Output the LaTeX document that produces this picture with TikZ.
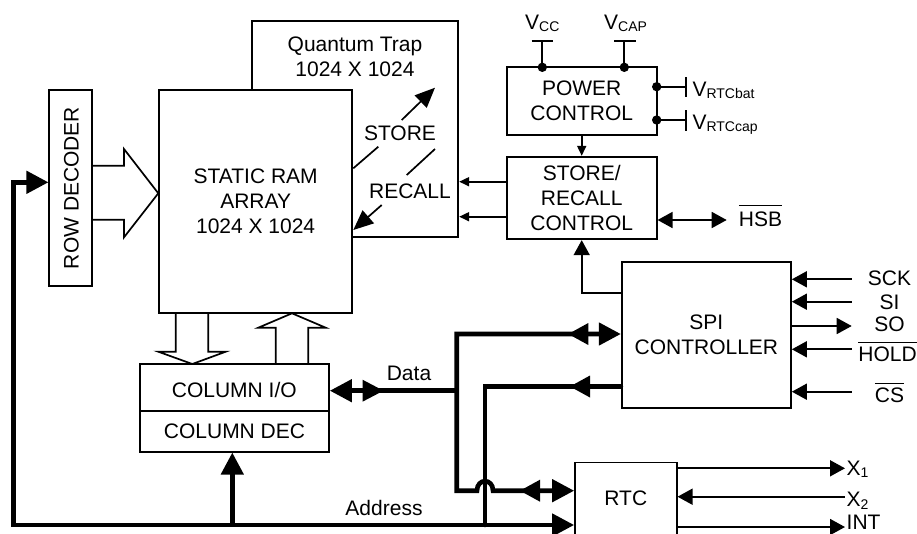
\documentclass[tikz,border=0pt]{standalone}
\usepackage{fontspec}
\setmainfont{Liberation Sans}
\usetikzlibrary{arrows.meta,calc}
\newcommand\sub[1]{\raisebox{-2.5pt}{\fontsize{14}{14}\selectfont #1}}
\newcommand\ovl[2]{\vbox{\hrule height 1.5pt\kern #1\hbox{#2}}}
\tikzset{
  Ts/.tip={Triangle[length=10pt,width=9pt]},
  Tm/.tip={Triangle[length=15pt,width=16pt]},
  Tl/.tip={Triangle[length=20pt,width=17pt]},
  Tb/.tip={Triangle[length=22pt,width=22pt]},
}
\begin{document}
\begin{tikzpicture}[x=1pt,y=-1pt,
  every node/.style={font=\fontsize{21}{25}\selectfont, inner sep=0pt},
  box/.style={draw, line width=1.7pt, fill=white, align=center},
  thin/.style={line width=1.7pt},
  bus/.style={line width=4.6pt},
  txt/.style={anchor=base},
]
\useasboundingbox (0,0) rectangle (917,533);
% helper levels
\coordinate (ya) at (0,181.7);
\coordinate (yb) at (0,216.7);
\coordinate (yh) at (0,220);
\coordinate (ys) at (0,293.3);
\coordinate (ysck) at (0,279.3);
\coordinate (ysi) at (0,301.7);
\coordinate (yso) at (0,326);
\coordinate (yhold) at (0,349.3);
\coordinate (ycs) at (0,391.7);
\coordinate (ydt) at (0,334);
\coordinate (ydata) at (0,390.7);
\coordinate (ysa) at (0,386.5);
\coordinate (ydb) at (0,490.7);
\coordinate (yaddr) at (0,525);
\coordinate (yrow) at (0,182.3);
\coordinate (yx1) at (0,468.3);
\coordinate (yx2) at (0,496.7);
\coordinate (yint) at (0,527);
\coordinate (xpin) at (851.7,0);
\coordinate (xx) at (845,0);
\coordinate (xhsb) at (726.7,0);
\coordinate (xbus) at (13.3,0);
\coordinate (xdv) at (456.7,0);
\coordinate (xav) at (485,0);
\coordinate (xcd) at (232.3,0);

% boxes
\node[box, minimum width=206.6pt, minimum height=216.3pt] (qt) at (355,129.15) {};
\node[align=center] (qtt) at (355,56.5) {Quantum Trap\\1024 X 1024};
\node[box, minimum width=193.3pt, minimum height=223.3pt] (sram) at (255.65,201.65) {STATIC RAM\\ARRAY\\1024 X 1024};
\node[box, minimum width=43pt, minimum height=196pt] (rowdec) at (70.8,188) {};
\node[rotate=90] (rowt) at (71.5,188) {ROW DECODER};
\node[box, minimum width=150pt, minimum height=67.7pt] (power) at (581.7,101.15) {POWER\\CONTROL};
\node[box, minimum width=150pt, minimum height=82.6pt] (src) at (581.7,198) {STORE/\\RECALL\\CONTROL};
\node[box, minimum width=169.3pt, minimum height=146.6pt] (spi) at (706.35,335) {SPI\\CONTROLLER};
\node[box, minimum width=189pt, minimum height=46.7pt] (colio) at (234.5,387.35) {};
\node[txt] (coliot) at (234.3,397.3) {COLUMN I/O};
\node[box, minimum width=189pt, minimum height=41pt] (coldec) at (234.5,431.2) {COLUMN DEC};
\node[box, minimum width=101.7pt, minimum height=75pt] (rtc) at (625.85,500) {};
\node[txt] (rtct) at (625.8,505) {RTC};

% hollow arrows
\draw[thin] (92.3,165.7) -- (124,165.7) -- (124,149) -- (158.3,193.3) -- (124,237.3) -- (124,219.7) -- (92.3,219.7);
\draw[thin] (175.7,313.3) -- (175.7,351.7) -- (158.3,351.7) -- (192.3,364) -- (225.7,351.7) -- (208.3,351.7) -- (208.3,313.3);
\draw[thin] (275.7,364) -- (275.7,327.7) -- (258.3,327.7) -- (292,313.3) -- (325.7,327.7) -- (308.3,327.7) -- (308.3,364);

% store / recall diagonals
\coordinate (s1) at (353.3,168.3); \coordinate (s2) at (378.3,146.7);
\coordinate (s3) at (401.7,120);   \coordinate (s4) at (435,87.7);
\coordinate (r1) at (435,149);     \coordinate (r2) at (406.7,175);
\coordinate (r3) at (381.7,205);   \coordinate (r4) at (353.3,230);
\draw[thin] (s1) -- (s2);
\draw[thin,-{Tl}] (s3) -- (s4);
\draw[thin] (r1) -- (r2);
\draw[thin,-{Tl}] (r3) -- (r4);
\node[txt] (store) at (400,140) {STORE};
\node[txt] (recall) at (410,198.3) {RECALL};

% power pins
\coordinate (vccp) at (542.3,67.3);
\coordinate (vcapp) at (624.3,67.3);
\draw[thin] (vccp) -- (542.3,41);
\draw[thin] (531.7,41) -- (553.3,41);
\fill (vccp) circle[radius=4.7pt];
\draw[thin] (vcapp) -- (624.3,41);
\draw[thin] (614,41) -- (635.7,41);
\fill (vcapp) circle[radius=4.7pt];
\node[anchor=base west] (vcc) at (525,29.3) {V\sub{CC}};
\node[anchor=base west] (vcap) at (604,29.3) {V\sub{CAP}};
\coordinate (vbp) at (656.7,86.7);
\coordinate (vcp) at (656.7,120);
\draw[thin] (vbp) -- (685.7,86.7);
\draw[thin] (685.7,77.3) -- (685.7,97.3);
\fill (vbp) circle[radius=4.7pt];
\draw[thin] (vcp) -- (685.7,120);
\draw[thin] (685.7,110) -- (685.7,130.5);
\fill (vcp) circle[radius=4.7pt];
\node[anchor=base west] (vbat) at (692.3,96) {V\sub{RTCbat}};
\node[anchor=base west] (vcapr) at (692.3,129.3) {V\sub{RTCcap}};

% thin connectors
\draw[thin,-{Ts}] (power.south) -- (src.north);
\draw[thin,-{Ts}] (src.west |- ya) -- (qt.east |- ya);
\draw[thin,-{Ts}] (src.west |- yb) -- (qt.east |- yb);
\draw[thin,{Tm}-{Tm}] (src.east |- yh) -- (xhsb |- yh);
\node[txt] (hsb) at (760.5,226.7) {\ovl{6pt}{HSB}};
\draw[thin,-{Tm}] (spi.west |- ys) -| (src.south);

\draw[thin,{Tm}-] (spi.east |- ysck) -- (xpin |- ysck);
\draw[thin,{Tm}-] (spi.east |- ysi) -- (xpin |- ysi);
\draw[thin,-{Tm}] (spi.east |- yso) -- (xpin |- yso);
\draw[thin,{Tm}-] (spi.east |- yhold) -- (xpin |- yhold);
\draw[thin,{Tm}-] (spi.east |- ycs) -- (xpin |- ycs);
\node[txt] (sck) at (889.5,285) {SCK};
\node[txt] (si) at (889.5,309.3) {SI};
\node[txt] (so) at (889.5,331.7) {SO};
\node[txt] (hold) at (887.5,361.7) {\ovl{4pt}{HOLD}};
\node[txt] (cs) at (889.5,402.7) {\ovl{4pt}{CS}};

\draw[thin,-{Tm}] (rtc.east |- yx1) -- (xx |- yx1);
\draw[thin,{Tm}-] (rtc.east |- yx2) -- (xx |- yx2);
\draw[thin,-{Tm}] (rtc.east |- yint) -- (xx |- yint);
\node[anchor=base west] (x1) at (846.5,475) {X\sub{1}};
\node[anchor=base west] (x2) at (846.5,506.7) {X\sub{2}};
\node[anchor=base west] (int) at (846.5,529.5) {INT};

% buses
\draw[bus,{Tb}-{Tb}] (rtc.west |- yaddr) -- (xbus |- yaddr) -- (xbus |- yrow) -- (rowdec.west |- yrow);
\draw[bus,-{Tb}] (xcd |- yaddr) -- (xcd |- coldec.south);
\draw[bus,line cap=round] (spi.west |- ysa) -- (xav |- ysa) -- (xav |- yaddr);
\coordinate (hop1) at (477,490.7);
\coordinate (hop2) at (493,490.7);
\draw[bus,{Tb}-{Tb}] (spi.west |- ydt) -- (xdv |- ydt) -- (xdv |- ydb) -- (hop1) .. controls (477,478) and (493,478) .. (hop2) -- (rtc.west |- ydb);
\draw[bus,{Tb}-] (colio.east |- ydata) -- (xdv |- ydata);
% inline heads
\coordinate (ih1) at (383.5,390.7);
\coordinate (ih2) at (568.3,334);
\coordinate (ih3) at (520,490.7);
\coordinate (ih4) at (570,386.5);
\fill (ih1) -- ++(-21,-11) -- ++(0,22) -- cycle;
\fill (ih2) -- ++(20,-11) -- ++(0,22) -- cycle;
\fill (ih3) -- ++(20,-11) -- ++(0,22) -- cycle;
\fill (ih4) -- ++(20,-11) -- ++(0,22) -- cycle;
\node[txt] (data) at (409,380) {Data};
\node[txt] (addr) at (384,515) {Address};
\end{tikzpicture}
\end{document}
